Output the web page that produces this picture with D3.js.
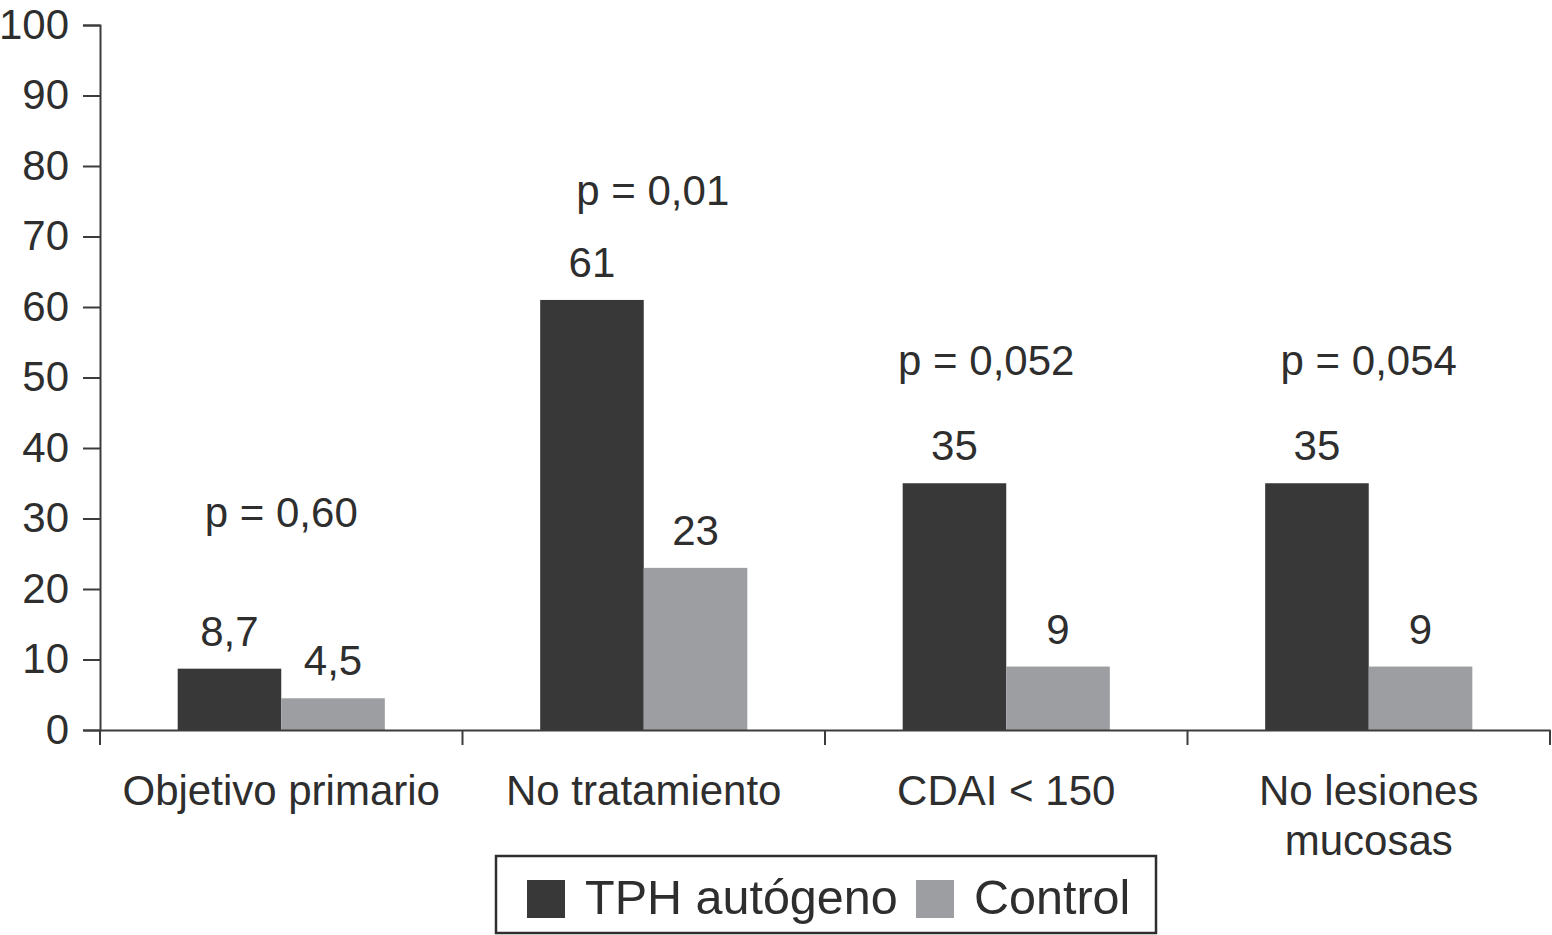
<!DOCTYPE html>
<html>
<head>
<meta charset="utf-8">
<script src="https://cdn.jsdelivr.net/npm/d3@7"></script>
<style>
  body { margin: 0; background: #fff; }
  text { font-family: "Liberation Sans", Arial, sans-serif; fill: #2e2e2e; }
</style>
</head>
<body>
<div id="graph"></div>
<script>
// data
var categories = ["Objetivo primario", "No tratamiento", "CDAI < 150", "No lesiones\nmucosas"]
var series = ["TPH autógeno", "Control"]
var tph = [8.7, 61, 35, 35]
var control = [4.5, 23, 9, 9]
var pValues = ["p = 0,60", "p = 0,01", "p = 0,052", "p = 0,054"]
// height (in chart units) where each p label sits
var pLevels = [28.8, 74.5, 50.4, 50.4]
var yTicks = [0, 10, 20, 30, 40, 50, 60, 70, 80, 90, 100]

var w = 1552, h = 935
var margin = {top: 25, right: 2, bottom: 205, left: 100}
var fontSize = "42px"
// small horizontal nudges of the p labels, as in the original figure
var pNudge = [0, 9, -20, 0]

var colour = d3.scaleOrdinal()
  .domain(series)
  .range(["#383838", "#9d9ea2"])

var data = categories.map((c, i) => ({
  category: c,
  values: [{key: series[0], v: tph[i]}, {key: series[1], v: control[i]}],
  p: pValues[i],
  pAt: pLevels[i],
  nudge: pNudge[i]
}))

var svg = d3.select('#graph')
  .append('svg')
  .attr("width", w)
  .attr("height", h)
  .style("background", "#fff")

var x0 = d3.scaleBand()
  .domain(categories)
  .range([margin.left, w - margin.right])
  .padding(0)

var x1 = d3.scaleBand()
  .domain(series)
  .range([0, x0.bandwidth()])
  .paddingInner(0)
  .paddingOuter(0.75)

var y = d3.scaleLinear()
  .domain([0, 100])
  .range([h - margin.bottom, margin.top])

var fmt = v => String(v).replace('.', ',')

// bars
var groups = svg.append("g").selectAll("g")
  .data(data)
  .enter()
  .append("g")
  .attr("transform", d => "translate(" + x0(d.category) + ",0)")

groups.selectAll("rect")
  .data(d => d.values)
  .enter()
  .append("rect")
  .attr("x", d => x1(d.key))
  .attr("y", d => y(d.v))
  .attr("width", x1.bandwidth())
  .attr("height", d => y(0) - y(d.v))
  .style("fill", d => colour(d.key))

groups.selectAll(".val")
  .data(d => d.values)
  .enter()
  .append("text")
  .attr("class", "val")
  .attr("x", d => x1(d.key) + x1.bandwidth() / 2)
  .attr("y", d => y(d.v) - 23)
  .attr("text-anchor", "middle")
  .style("font-size", fontSize)
  .text(d => fmt(d.v))

groups.append("text")
  .attr("x", d => x0.bandwidth() / 2 + d.nudge)
  .attr("y", d => y(d.pAt))
  .attr("text-anchor", "middle")
  .style("font-size", fontSize)
  .text(d => d.p)

// y axis
var yAxis = svg.append("g")
  .attr("transform", "translate(" + margin.left + ",0)")
  .call(d3.axisLeft(y).tickValues(yTicks).tickSize(17).tickPadding(14))

yAxis.selectAll("text").style("font-size", fontSize).attr("fill", "#2e2e2e")

// x axis
var xAxis = svg.append("g")
  .attr("transform", "translate(0," + y(0) + ")")
  .call(d3.axisBottom(x0).tickValues([]).tickSizeOuter(0))

xAxis.selectAll(".tick-b")
  .data(d3.range(categories.length + 1))
  .enter()
  .append("line")
  .attr("x1", i => i < categories.length ? x0(categories[i]) : x0.range()[1])
  .attr("x2", i => i < categories.length ? x0(categories[i]) : x0.range()[1])
  .attr("y1", 0)
  .attr("y2", 15)
  .attr("stroke", "#3c3c3c")
  .attr("stroke-width", 2)

svg.selectAll(".domain, .tick line")
  .attr("stroke", "#3c3c3c")
  .attr("stroke-width", 2)

// category labels
svg.append("g").selectAll("text")
  .data(categories)
  .enter()
  .append("text")
  .attr("x", d => x0(d) + x0.bandwidth() / 2)
  .attr("y", y(0) + 75)
  .attr("text-anchor", "middle")
  .style("font-size", fontSize)
  .each(function(d) {
    var lines = d.split("\n")
    d3.select(this).selectAll("tspan")
      .data(lines)
      .enter()
      .append("tspan")
      .attr("x", x0(d) + x0.bandwidth() / 2)
      .attr("dy", (l, i) => i == 0 ? 0 : 50)
      .text(l => l)
  })

// legend
var legend = svg.append("g")
legend.append("rect")
  .attr("x", 496).attr("y", 856)
  .attr("width", 660).attr("height", 77)
  .attr("fill", "none")
  .attr("stroke", "#2e2e2e")
  .attr("stroke-width", 2.5)

var legendPos = [527, 916]
series.forEach((s, i) => {
  legend.append("rect")
    .attr("x", legendPos[i]).attr("y", 880)
    .attr("width", 38).attr("height", 38)
    .style("fill", colour(s))
  legend.append("text")
    .attr("x", legendPos[i] + 58)
    .attr("y", 914)
    .style("font-size", "48.5px")
    .text(s)
})
</script>
</body>
</html>
